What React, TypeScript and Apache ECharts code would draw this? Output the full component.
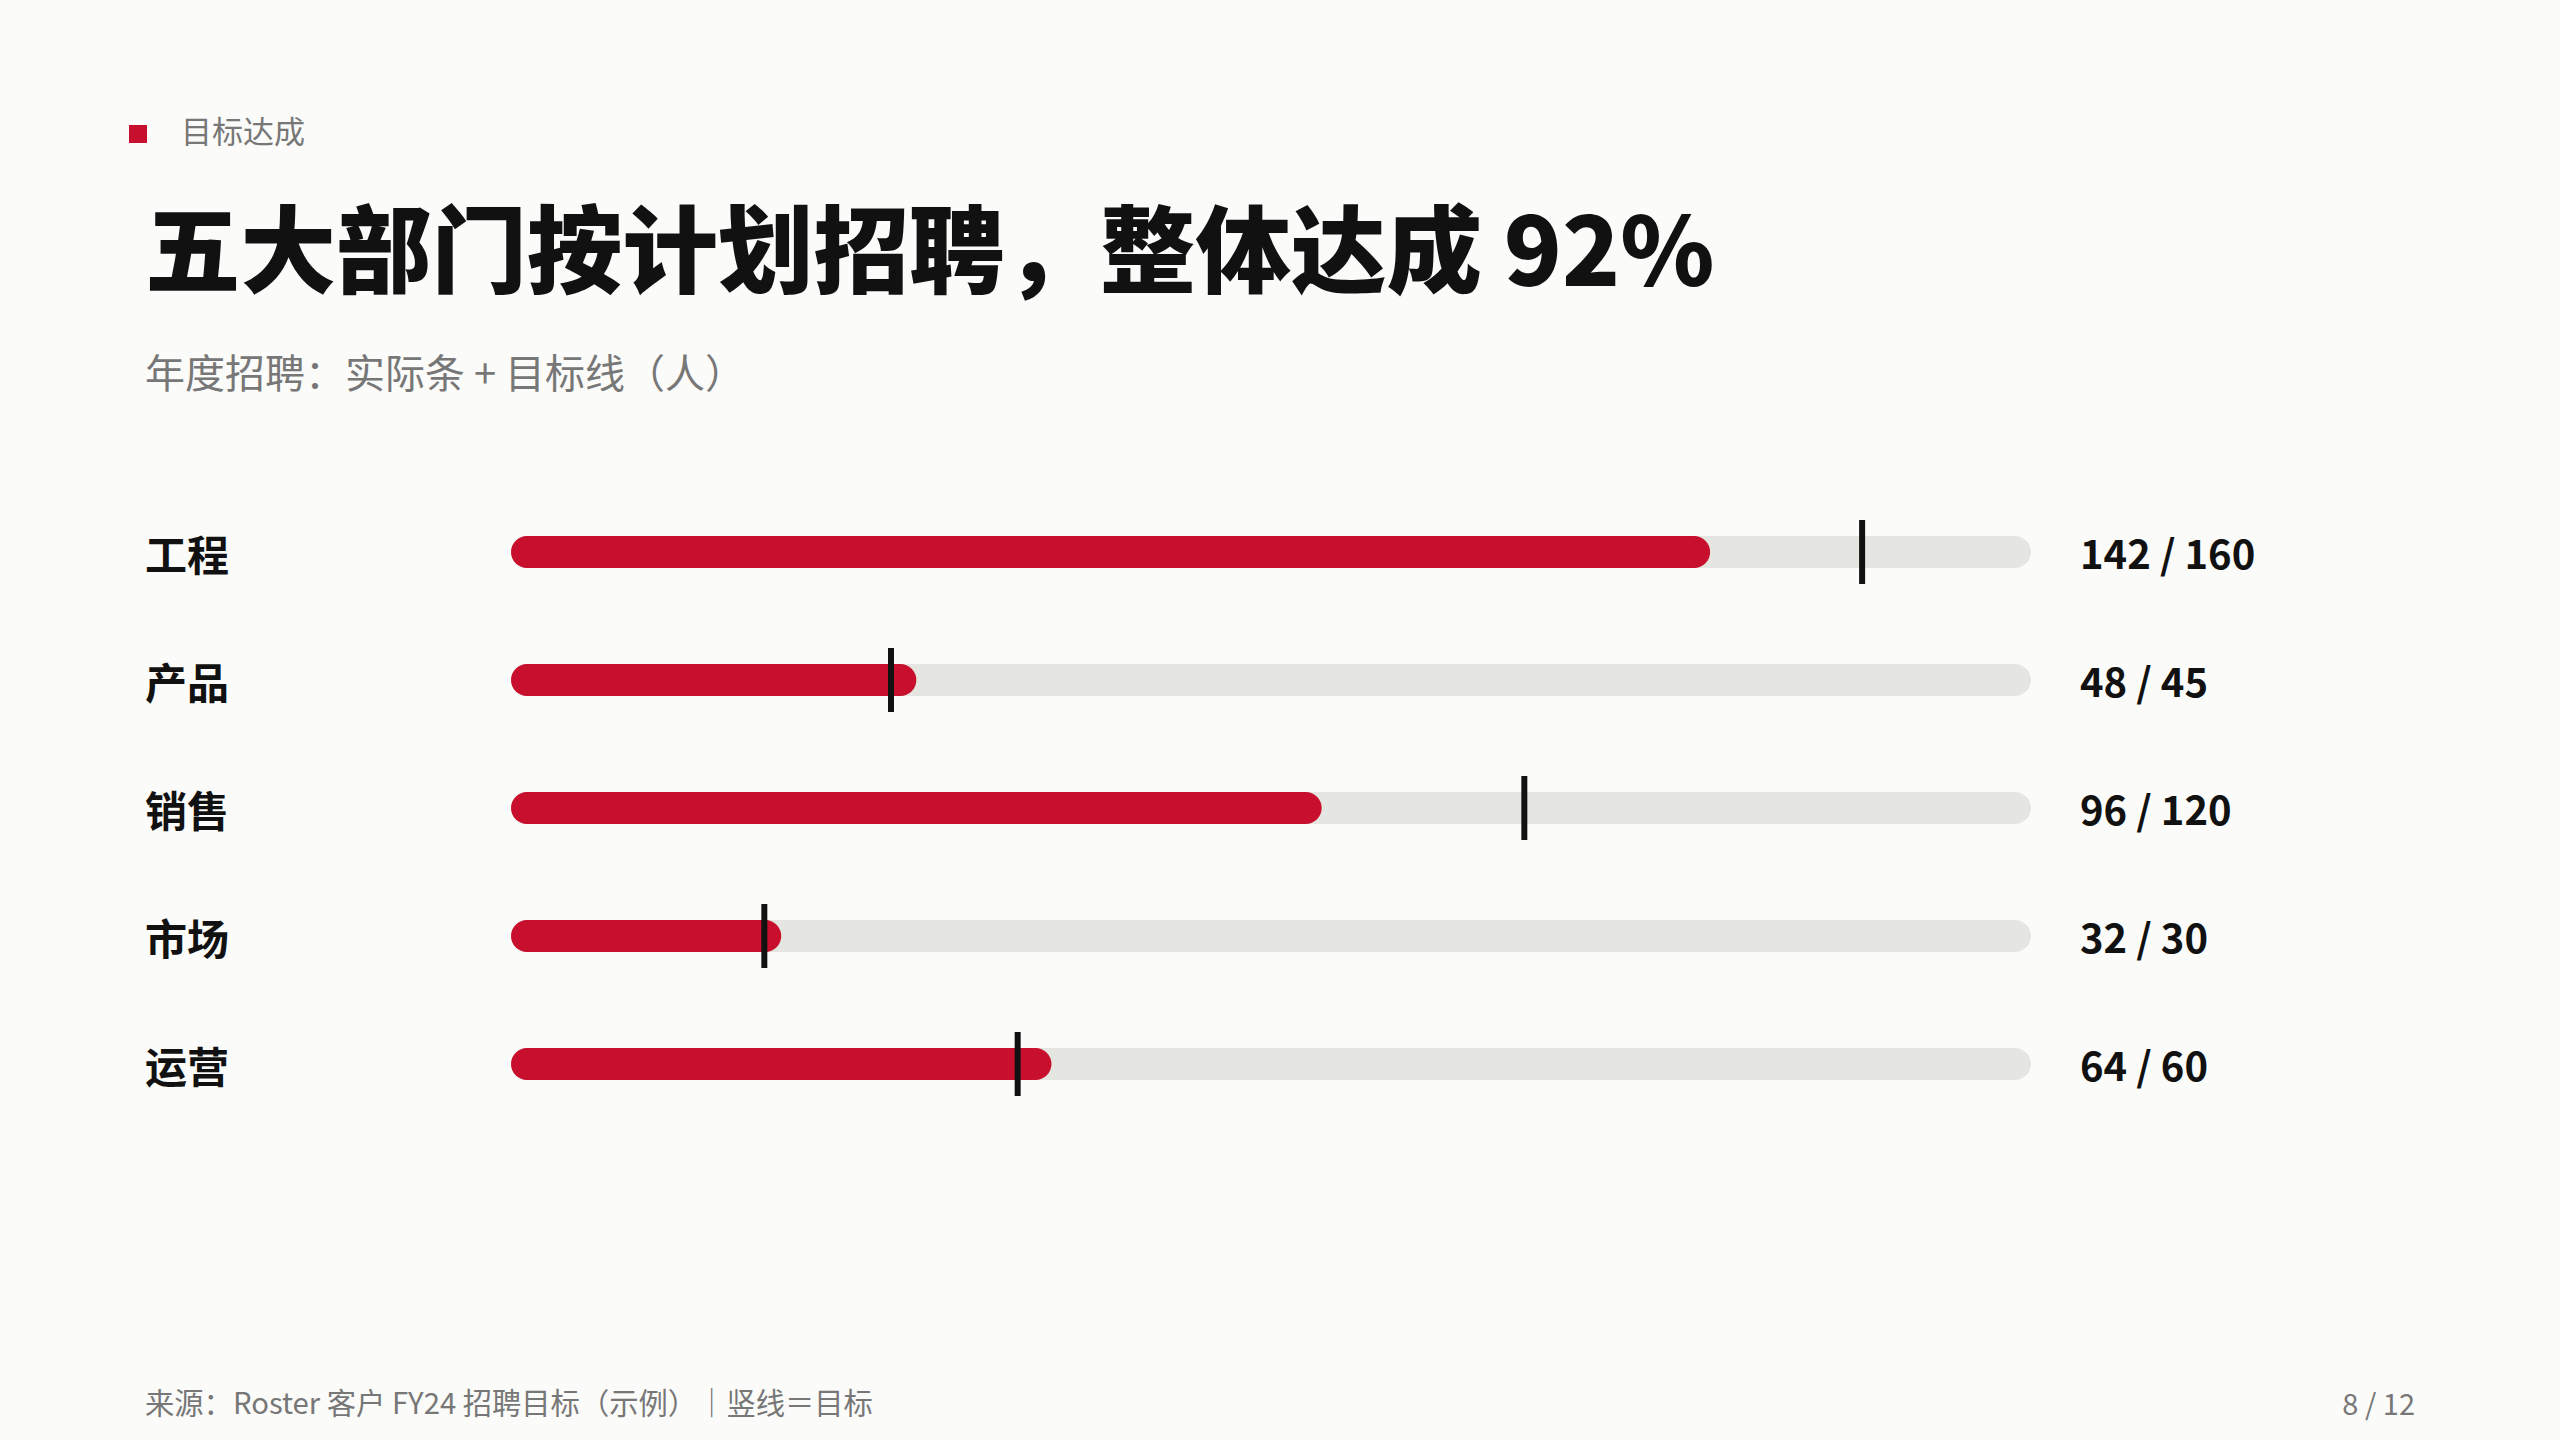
import React, { useEffect, useRef } from "react";
import * as echarts from "echarts";

const categories = ["工程", "产品", "销售", "市场", "运营"];
const actualValues = [142, 48, 96, 32, 64];
const targetValues = [160, 45, 120, 30, 60];
const axisMax = 180;

const FONT = '"Noto Sans CJK SC", "Noto Sans", sans-serif';
const RED = "#C8102E";
const INK = "#111111";
const GRAY = "#777777";
const TRACK = "#E5E5E1";
const BG = "#FBFBF9";

export default function App() {
  const ref = useRef<HTMLDivElement>(null);

  useEffect(() => {
    document.body.style.margin = "0";
    document.body.style.background = BG;
    if (!ref.current) return;
    const chart = echarts.init(ref.current, null, { renderer: "svg" });

    const option = {
      animation: false,
      backgroundColor: BG,
      grid: { left: 511, right: 529, top: 488, bottom: 312, containLabel: false },
      xAxis: {
        type: "value",
        min: 0,
        max: axisMax,
        show: false,
        splitLine: { show: false },
      },
      yAxis: {
        type: "category",
        data: categories,
        inverse: true,
        axisLine: { show: false },
        axisTick: { show: false },
        splitLine: { show: false },
        axisLabel: {
          align: "left",
          margin: 366,
          fontSize: 42,
          fontWeight: "bold",
          color: INK,
          fontFamily: FONT,
        },
      },
      series: [
        {
          name: "track",
          type: "bar",
          data: categories.map(() => axisMax),
          barWidth: 32,
          barGap: "-100%",
          silent: true,
          itemStyle: { color: TRACK, borderRadius: 16 },
          label: {
            show: true,
            position: "right",
            distance: 49,
            formatter: (p: any) => `${actualValues[p.dataIndex]} / ${targetValues[p.dataIndex]}`,
            fontSize: 40,
            fontWeight: "bold",
            color: INK,
            fontFamily: FONT,
          },
          z: 1,
        },
        {
          name: "实际",
          type: "bar",
          data: actualValues,
          barWidth: 32,
          barGap: "-100%",
          itemStyle: { color: RED, borderRadius: 16 },
          z: 2,
        },
        {
          name: "目标",
          type: "scatter",
          data: targetValues.map((v, i) => [v, categories[i]]),
          symbol: "rect",
          symbolSize: [6, 64],
          itemStyle: { color: INK, opacity: 1 },
          z: 3,
        },
      ],
      graphic: [
        {
          type: "rect",
          shape: { x: 129, y: 125, width: 18, height: 18 },
          style: { fill: RED },
        },
        {
          type: "text",
          x: 181,
          y: 129,
          style: {
            text: "目标达成",
            fontSize: 31,
            fontFamily: FONT,
            fill: GRAY,
            align: "left",
            verticalAlign: "middle",
          },
        },
        {
          type: "text",
          x: 145,
          y: 244,
          style: {
            text: "五大部门按计划招聘，整体达成 92%",
            fontSize: 95.5,
            fontWeight: 900,
            fontFamily: FONT,
            fill: INK,
            align: "left",
            verticalAlign: "middle",
          },
        },
        {
          type: "text",
          x: 145,
          y: 371,
          style: {
            text: "年度招聘：实际条 + 目标线（人）",
            fontSize: 40,
            fontFamily: FONT,
            fill: GRAY,
            align: "left",
            verticalAlign: "middle",
          },
        },
        {
          type: "text",
          x: 145,
          y: 1401,
          style: {
            text: "来源：Roster 客户 FY24 招聘目标（示例）｜竖线＝目标",
            fontSize: 29.3,
            fontFamily: FONT,
            fill: GRAY,
            align: "left",
            verticalAlign: "middle",
          },
        },
        {
          type: "text",
          x: 2415,
          y: 1402,
          style: {
            text: "8 / 12",
            fontSize: 29,
            fontFamily: FONT,
            fill: GRAY,
            align: "right",
            verticalAlign: "middle",
          },
        },
      ],
    };

    chart.setOption(option as any);
    return () => chart.dispose();
  }, []);

  return <div ref={ref} style={{ width: 2560, height: 1440 }} />;
}
